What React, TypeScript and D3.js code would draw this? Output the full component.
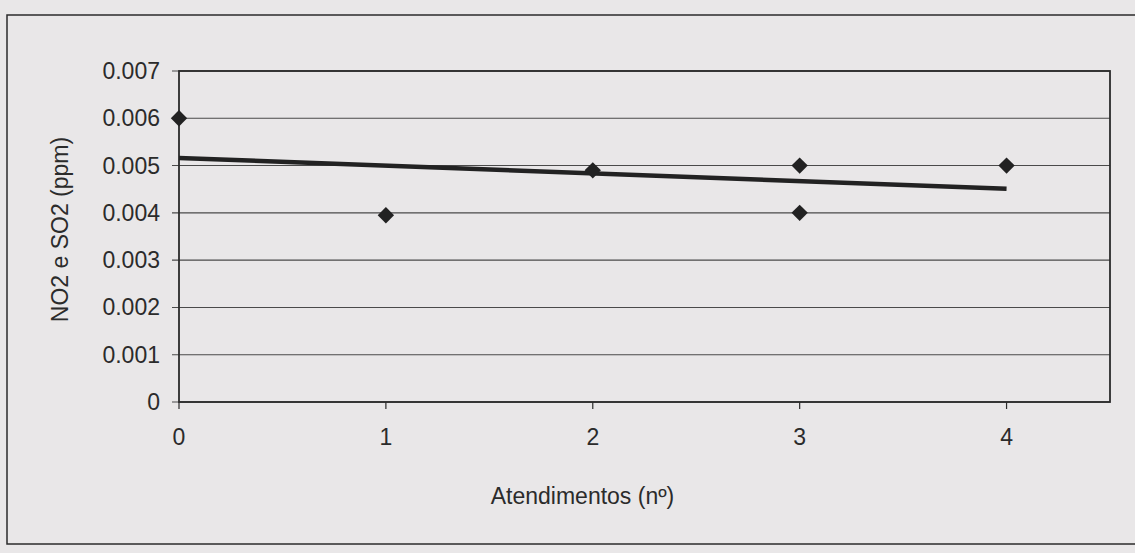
import React from "react"
import * as d3 from "d3"

// atendimentos (nº) vs NO2 e SO2 (ppm)
const xValues = [0, 1, 2, 3, 3, 4]
const yValues = [0.006, 0.00395, 0.0049, 0.005, 0.004, 0.005]
const xTicks = [0, 1, 2, 3, 4]
const yTicks = [0, 0.001, 0.002, 0.003, 0.004, 0.005, 0.006, 0.007]

const width = 1135
const height = 553
const margin = { left: 179, right: 25, top: 71, bottom: 151 }
const ink = "#2b2b2b"
const font = "Liberation Sans, Arial, sans-serif"

export default function App() {
    const innerW = width - margin.left - margin.right
    const innerH = height - margin.top - margin.bottom

    const x = d3.scaleLinear().domain([0, 4.5]).range([0, innerW])
    const y = d3.scaleLinear().domain([0, 0.007]).range([innerH, 0])

    // linear trendline (least squares) as Excel draws it
    const xm = d3.mean(xValues) as number
    const ym = d3.mean(yValues) as number
    const sxy = d3.sum(xValues, (v, i) => (v - xm) * (yValues[i] - ym))
    const sxx = d3.sum(xValues, v => (v - xm) ** 2)
    const slope = sxy / sxx
    const intercept = ym - slope * xm
    const xMin = d3.min(xValues) as number
    const xMax = d3.max(xValues) as number
    const trend = d3.line<number>()
        .x(v => x(v))
        .y(v => y(intercept + slope * v))([xMin, xMax])

    const diamond = d3.symbol().type(d3.symbolDiamond2).size(170)()

    return (
        <svg width={width} height={height} style={{ position: "absolute", left: 0, top: 0, background: "#e9e7e8" }}>
            <rect x={7} y={15} width={width} height={529} fill="none" stroke={ink} strokeWidth={1.5} />
            <g transform={`translate(${margin.left},${margin.top})`}>
                {yTicks.map(t => (
                    <g key={t}>
                        <line x1={-7} x2={innerW} y1={y(t)} y2={y(t)} stroke="#4a4a4a" strokeWidth={1.1} />
                        <text x={-19} y={y(t)} dy="0.35em" textAnchor="end" fontFamily={font} fontSize={23} fill={ink}>
                            {t === 0 ? "0" : d3.format(".3f")(t)}
                        </text>
                    </g>
                ))}
                <rect x={0} y={0} width={innerW} height={innerH} fill="none" stroke={ink} strokeWidth={1.8} />
                {xTicks.map(t => (
                    <g key={t}>
                        <line x1={x(t)} x2={x(t)} y1={innerH} y2={innerH + 7} stroke={ink} strokeWidth={1.2} />
                        <text x={x(t)} y={innerH + 35} dy="0.35em" textAnchor="middle" fontFamily={font} fontSize={23} fill={ink}>
                            {t}
                        </text>
                    </g>
                ))}
                <path d={trend ?? ""} fill="none" stroke="#222" strokeWidth={4.5} />
                {xValues.map((v, i) => (
                    <path key={i} d={diamond ?? ""} transform={`translate(${x(v)},${y(yValues[i])})`} fill="#222" />
                ))}
                <text x={innerW / 2 - 62} y={innerH + 94} dy="0.35em" textAnchor="middle" fontFamily={font} fontSize={23} fill={ink}>
                    Atendimentos (nº)
                </text>
                <text transform={`translate(${-119},${innerH / 2 - 7}) rotate(-90)`} dy="0.35em" textAnchor="middle" fontFamily={font} fontSize={23} fill={ink}>
                    NO2 e SO2 (ppm)
                </text>
            </g>
        </svg>
    )
}
